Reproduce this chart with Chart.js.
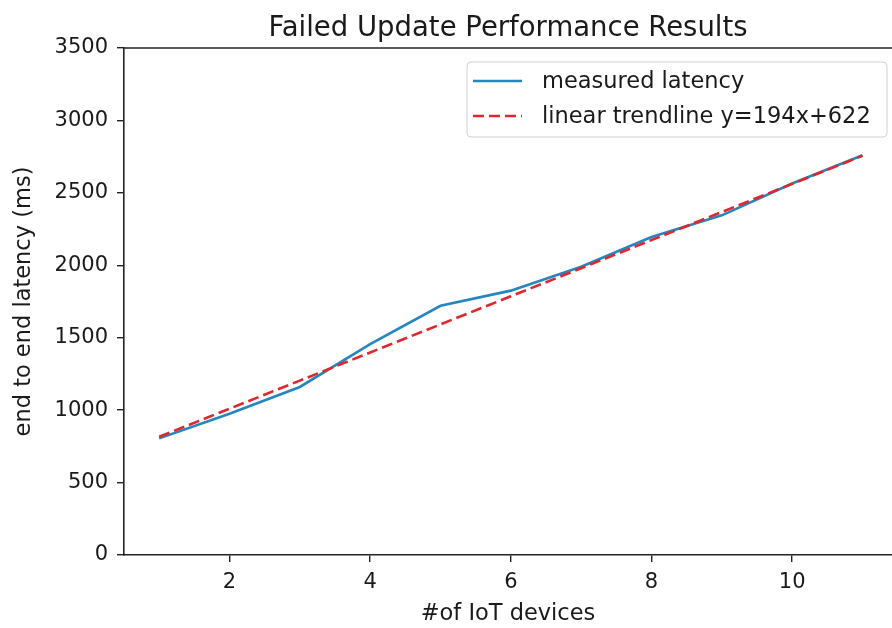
<!DOCTYPE html>
<html>
<head>
<meta charset="utf-8">
<script src="https://cdn.jsdelivr.net/npm/chart.js@4"></script>
<style>
  html, body { margin: 0; padding: 0; background: #ffffff; }
  #wrap { width: 892px; height: 628px; }
</style>
</head>
<body>
<div id="wrap"><canvas id="c" width="892" height="628"></canvas></div>
<script>
// ---- data ----
const devices = [1, 2, 3, 4, 5, 6, 7, 8, 9, 10, 11];
const measuredLatency = [805, 975, 1160, 1455, 1720, 1825, 1990, 2195, 2345, 2565, 2760];
const trendlineLatency = [816, 1010, 1204, 1398, 1592, 1786, 1980, 2174, 2368, 2562, 2756];
const xTickValues = [2, 4, 6, 8, 10];
const yTickValues = [0, 500, 1000, 1500, 2000, 2500, 3000, 3500];
const seriesLabels = ['measured latency', 'linear trendline y=194x+622'];
const titleText = 'Failed Update Performance Results';
const xTitle = '#of IoT devices';
const yTitle = 'end to end latency (ms)';

const FONT = "'DejaVu Sans', sans-serif";
const TXT = '#1a1a1a';
const BLUE = '#2386c0';
const RED = '#e2262c';

const frame = {
  id: 'frame',
  afterDatasetsDraw(chart) {
    const {ctx, chartArea} = chart;
    ctx.save();
    ctx.strokeStyle = '#222';
    ctx.lineWidth = 1.6;
    ctx.beginPath();
    ctx.moveTo(chartArea.left, chartArea.top);
    ctx.lineTo(chartArea.right, chartArea.top);
    ctx.stroke();
    ctx.restore();
  },
  afterDraw(chart) {
    const {ctx} = chart;
    const ds = chart.data.datasets;
    const bx = 467, by = 62, bw = 420, bh = 75, r = 4;
    ctx.save();
    ctx.fillStyle = 'rgba(255,255,255,0.85)';
    ctx.strokeStyle = '#d0d0d0';
    ctx.lineWidth = 1;
    ctx.beginPath();
    ctx.moveTo(bx + r, by);
    ctx.lineTo(bx + bw - r, by);
    ctx.quadraticCurveTo(bx + bw, by, bx + bw, by + r);
    ctx.lineTo(bx + bw, by + bh - r);
    ctx.quadraticCurveTo(bx + bw, by + bh, bx + bw - r, by + bh);
    ctx.lineTo(bx + r, by + bh);
    ctx.quadraticCurveTo(bx, by + bh, bx, by + bh - r);
    ctx.lineTo(bx, by + r);
    ctx.quadraticCurveTo(bx, by, bx + r, by);
    ctx.closePath();
    ctx.fill();
    ctx.stroke();
    const rows = [81, 116];
    ds.forEach((d, i) => {
      const y = rows[i];
      ctx.strokeStyle = d.borderColor;
      ctx.lineWidth = d.borderWidth;
      ctx.setLineDash(d.borderDash || []);
      ctx.beginPath();
      ctx.moveTo(473, y);
      ctx.lineTo(522, y);
      ctx.stroke();
      ctx.setLineDash([]);
      ctx.fillStyle = TXT;
      ctx.font = '22.5px ' + FONT;
      ctx.textBaseline = 'middle';
      ctx.textAlign = 'left';
      ctx.fillText(d.label, 542, y + 1);
    });
    ctx.restore();
  }
};

new Chart(document.getElementById('c'), {
  type: 'line',
  data: {
    labels: devices,
    datasets: [
      {
        label: seriesLabels[0],
        data: devices.map((x, i) => ({x: x, y: measuredLatency[i]})),
        borderColor: BLUE,
        borderWidth: 2.6,
        pointRadius: 0,
        fill: false,
        tension: 0,
        order: 1
      },
      {
        label: seriesLabels[1],
        data: devices.map((x, i) => ({x: x, y: trendlineLatency[i]})),
        borderColor: RED,
        borderWidth: 2.6,
        borderDash: [11, 5],
        pointRadius: 0,
        fill: false,
        tension: 0,
        order: 0
      }
    ]
  },
  options: {
    responsive: false,
    animation: false,
    devicePixelRatio: 1,
    layout: { padding: { left: 0, right: 0, top: 0, bottom: 0 } },
    plugins: {
      legend: { display: false },
      tooltip: { enabled: false },
      title: {
        display: true,
        text: titleText,
        fullSize: false,
        color: TXT,
        font: { family: FONT, size: 27.5, weight: 'normal' },
        padding: { top: 12, bottom: 3 }
      }
    },
    scales: {
      x: {
        type: 'linear',
        min: 0.5,
        max: 11.42,
        afterFit(scale) { scale.height = 73; },
        afterBuildTicks(scale) { scale.ticks = xTickValues.map(v => ({value: v})); },
        grid: { drawOnChartArea: false, drawTicks: true, tickLength: 7, color: '#222', lineWidth: 1.4 },
        border: { display: true, color: '#222', width: 1.6 },
        ticks: { color: TXT, font: { family: FONT, size: 21 }, padding: 8, maxRotation: 0, autoSkip: false,
                 callback: (v) => String(v) },
        title: { display: true, text: xTitle, color: TXT, font: { family: FONT, size: 22.5 }, padding: { top: 0, bottom: 0 } }
      },
      y: {
        type: 'linear',
        min: 0,
        max: 3500,
        afterFit(scale) { scale.width = 124; },
        afterBuildTicks(scale) { scale.ticks = yTickValues.map(v => ({value: v})); },
        grid: { drawOnChartArea: false, drawTicks: true, tickLength: 7, color: '#222', lineWidth: 1.4 },
        border: { display: true, color: '#222', width: 1.6 },
        ticks: { color: TXT, font: { family: FONT, size: 21 }, padding: 9,
                 callback: (v) => String(v) },
        title: { display: true, text: yTitle, color: TXT, font: { family: FONT, size: 22.5 }, padding: { top: 11, bottom: 0 } }
      }
    }
  },
  plugins: [frame]
});
</script>
</body>
</html>
